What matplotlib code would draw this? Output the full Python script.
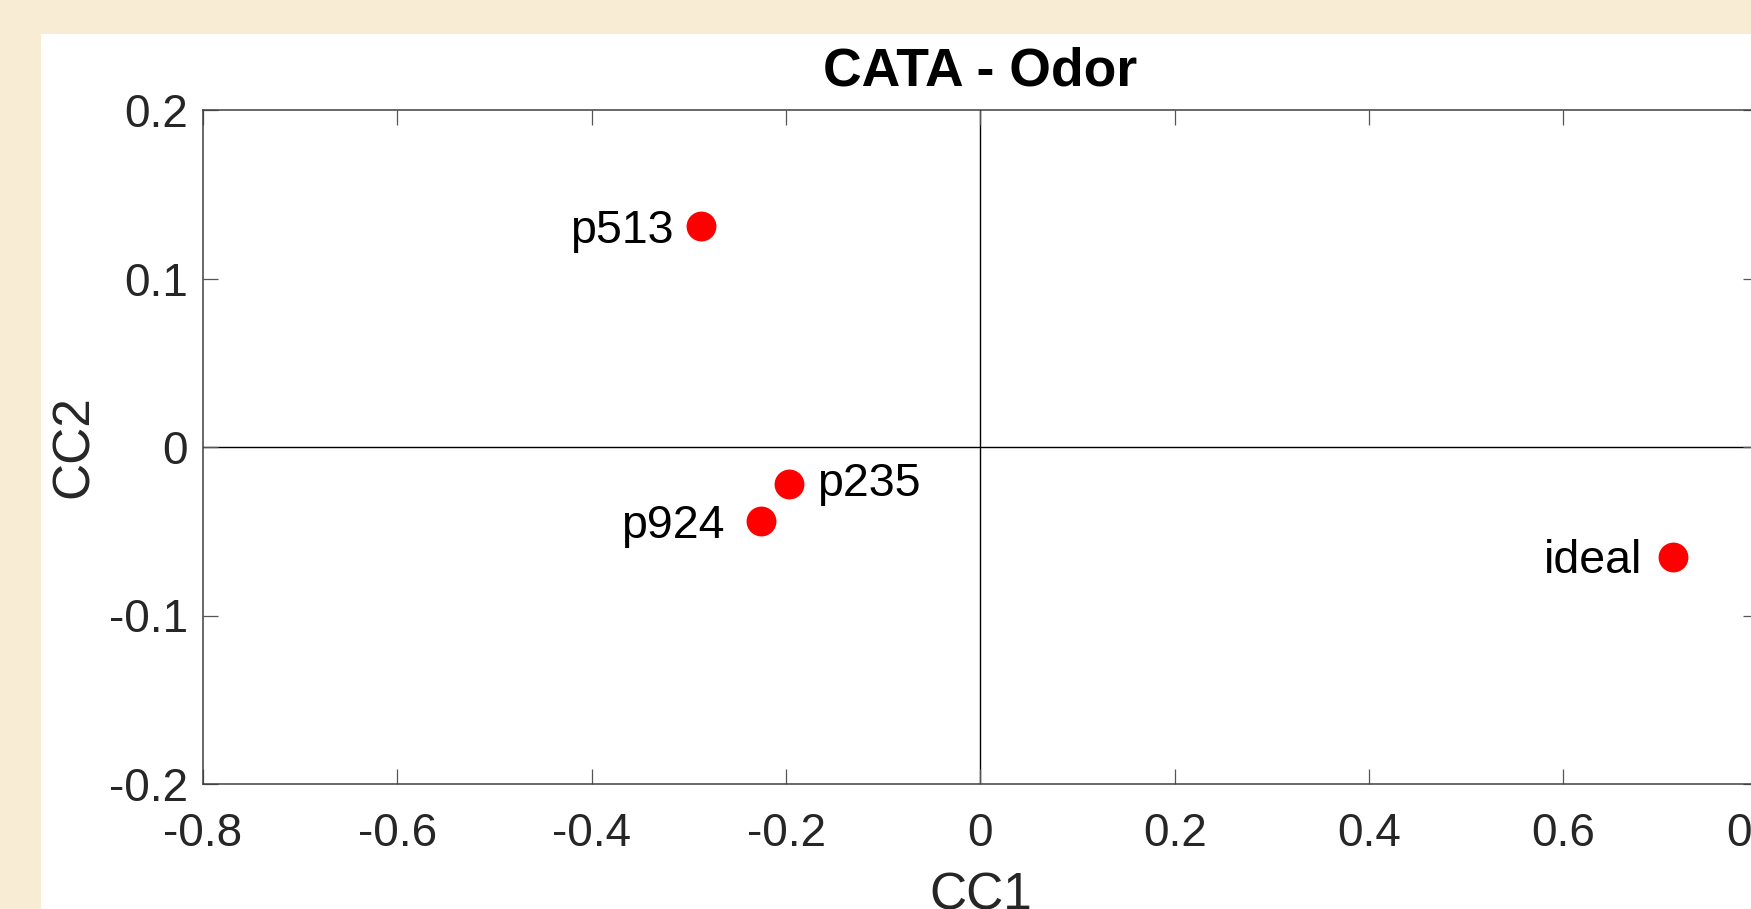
import matplotlib
matplotlib.use("Agg")
import matplotlib.pyplot as plt
from matplotlib.patches import Rectangle

plt.rcParams['font.family'] = ['Liberation Sans', 'DejaVu Sans']
plt.rcParams['axes.unicode_minus'] = False

# Correspondence-analysis coordinates of the samples
names = ["p513", "p235", "p924", "ideal"]
cc1 = [-0.288, -0.197, -0.226, 0.713]
cc2 = [0.131, -0.022, -0.044, -0.065]

xticks = [-0.8, -0.6, -0.4, -0.2, 0, 0.2, 0.4, 0.6, 0.8]
xticklabels = ["-0.8", "-0.6", "-0.4", "-0.2", "0", "0.2", "0.4", "0.6", "0.8"]
yticks = [-0.2, -0.1, 0, 0.1, 0.2]
yticklabels = ["-0.2", "-0.1", "0", "0.1", "0.2"]

# label placement relative to each marker (points)
label_dx = [-19.5, 20.0, -26.0, -22.5]
label_dy = [0.0, 3.5, 0.0, 0.0]

W, H, DPI = 1751, 909, 100
fig = plt.figure(figsize=(W / DPI, H / DPI), dpi=DPI)
fig.patch.set_facecolor('#F9ECD4')
fig.patches.append(Rectangle((41 / W, 0), 1 - 41 / W, 1 - 34 / H,
                             transform=fig.transFigure, facecolor='white',
                             edgecolor='none', zorder=-10))

ax = fig.add_axes([203 / W, 1 - 784 / H, 1554.7 / W, 674 / H])
ax.set_facecolor('white')
ax.set_xlim(-0.8, 0.8)
ax.set_ylim(-0.2, 0.2)

ax.axhline(0, color='black', lw=1.0, zorder=1)
ax.axvline(0, color='black', lw=1.0, zorder=1)

ax.plot(cc1, cc2, 'o', color='#FF0000', markersize=21.5, markeredgewidth=0,
        zorder=3, clip_on=False)

for name, x, y, dx, dy in zip(names, cc1, cc2, label_dx, label_dy):
    ax.annotate(name, (x, y), xytext=(dx, dy - 12.2), textcoords='offset points',
                ha='right' if dx < 0 else 'left', va='baseline',
                fontsize=33.5, color='black')

ax.set_xticks(xticks)
ax.set_xticklabels(xticklabels)
ax.set_yticks(yticks)
ax.set_yticklabels(yticklabels)
ax.tick_params(direction='in', length=11, width=0.9, color='#555555',
               top=True, right=True, labelsize=33, labelcolor='#262626')
ax.tick_params(axis='x', pad=20)
ax.tick_params(axis='y', pad=11)

for sp in ax.spines.values():
    sp.set_color('#404040')
    sp.set_linewidth(1.1)

ax.set_title("CATA - Odor", fontsize=38.5, fontweight='bold', pad=18)
ax.set_xlabel("CC1", fontsize=37, color='#262626')
ax.set_ylabel("CC2", fontsize=37, color='#262626')
ax.xaxis.set_label_coords(0.5, -0.13)
ax.yaxis.set_label_coords(-0.0668, 0.5)

fig.savefig("out.png", dpi=DPI, facecolor=fig.get_facecolor())
